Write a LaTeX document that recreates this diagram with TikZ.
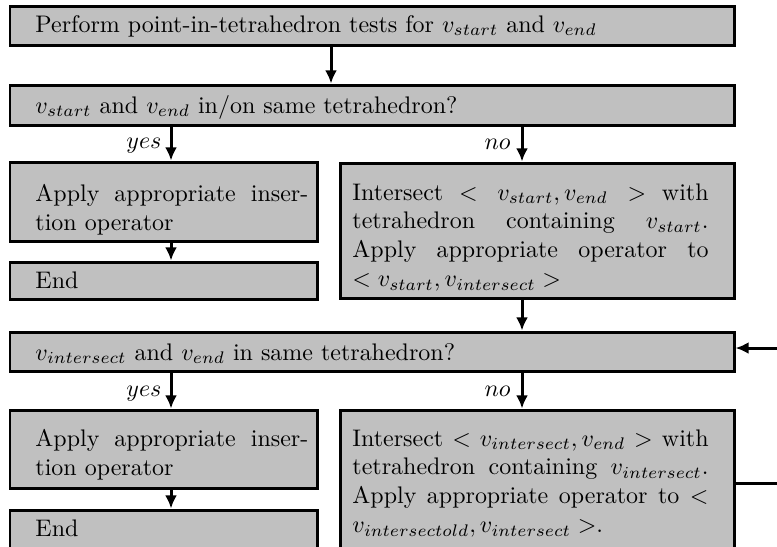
\documentclass[tikz,border=0pt]{standalone}
\usetikzlibrary{arrows.meta,fit,calc}
\definecolor{boxgray}{RGB}{192,192,192}
\tikzset{
  box/.style={draw=black, fill=boxgray, line width=1.25pt, inner sep=0pt, rectangle},
  txt/.style={inner sep=0pt, anchor=base west},
  para/.style={inner sep=0pt, align=justify, anchor=north west},
  arr/.style={line width=1.25pt, -{Latex[length=5.5pt,width=5pt]}},
  lbl/.style={inner sep=0pt, anchor=base east},
}
\begin{document}
\begin{tikzpicture}[x=0.417pt,y=-0.417pt]
\useasboundingbox (0,0) rectangle (777,546);
\clip (0,0) rectangle (777,546);
% columns
\coordinate (cA) at (331,0);
\coordinate (cL) at (171,0);
\coordinate (cR) at (522,0);
\coordinate (fbA) at (810,483);
\coordinate (fbB) at (810,348);
% boxes
\node[box, fit={(10,6) (734,45)}] (b1) {};
\node[box, fit={(10,85) (734,125)}] (b2) {};
\node[box, fit={(10,162) (317,241)}] (b3) {};
\node[box, fit={(10,262) (317,299)}] (b4) {};
\node[box, fit={(340,163) (734,298)}] (b5) {};
\node[box, fit={(10,332) (734,371)}] (b6) {};
\node[box, fit={(10,410) (317,488)}] (b7) {};
\node[box, fit={(10,510) (317,560)}] (b8) {};
\node[box, fit={(340,410) (734,600)}] (b9) {};
% texts
\node[txt] (t1) at (35,32) {Perform point-in-tetrahedron tests for $v_{start}$ and $v_{end}$};
\node[txt] (t2) at (35,113) {$v_{start}$ and $v_{end}$ in/on same tetrahedron?};
\node[para, text width=113.8pt] (t3) at (35,184) {Apply appropriate inser-\linebreak tion operator};
\node[txt] (t4) at (35,288) {End};
\node[para, text width=148.5pt] (t5) at (352,183) {Intersect $< v_{start},v_{end} >$ with\linebreak tetrahedron containing $v_{start}$.\linebreak Apply appropriate operator to\linebreak $< v_{start},v_{intersect} >$};
\node[txt] (t6) at (35,360) {$v_{intersect}$ and $v_{end}$ in same tetrahedron?};
\node[para, text width=113.8pt] (t7) at (35,429) {Apply appropriate inser-\linebreak tion operator};
\node[txt] (t8) at (35,536) {End};
\node[para, text width=148.5pt] (t9) at (352,429) {Intersect $< v_{intersect},v_{end} >$ with\linebreak tetrahedron containing $v_{intersect}$.\linebreak Apply appropriate operator to $<$\linebreak $v_{intersectold},v_{intersect} >$.};
% connectors
\draw[arr] (b1.south -| cA) -- (b2.north -| cA);
\draw[arr] (b2.south -| cL) -- (b3.north -| cL);
\draw[arr] (b2.south -| cR) -- (b5.north -| cR);
\draw[arr] (b3.south -| cL) -- (b4.north -| cL);
\draw[arr] (b5.south -| cR) -- (b6.north -| cR);
\draw[arr] (b6.south -| cL) -- (b7.north -| cL);
\draw[arr] (b6.south -| cR) -- (b9.north -| cR);
\draw[arr] (b7.south -| cL) -- (b8.north -| cL);
\draw[arr] (b9.east |- fbA) -- (fbA) -- (fbB) -- (b6.east |- fbB);
% labels
\node[lbl] (y1) at ($(b3.north -| cL)+(-9,-12)$) {$yes$};
\node[lbl] (n1) at ($(b5.north -| cR)+(-11,-12)$) {$no$};
\node[lbl] (y2) at ($(b7.north -| cL)+(-9,-12)$) {$yes$};
\node[lbl] (n2) at ($(b9.north -| cR)+(-11,-12)$) {$no$};
\end{tikzpicture}
\end{document}
